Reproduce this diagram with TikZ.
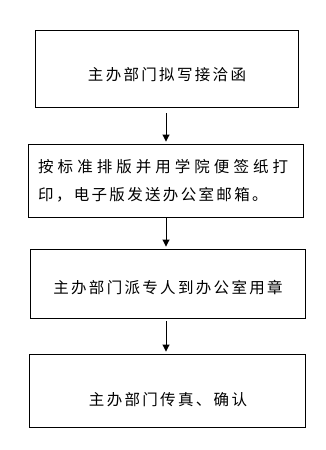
\documentclass[tikz,border=0pt]{standalone}
\usepackage{fontspec}
\newfontfamily\cjk[LetterSpace=15]{Noto Sans CJK SC}
\newfontfamily\cjkwide[LetterSpace=26]{Noto Sans CJK SC}
\usetikzlibrary{arrows.meta}

\begin{document}
\begin{tikzpicture}[x=1pt, y=-1pt,
    box/.style={draw, line width=0.9pt, inner sep=0pt},
    txt/.style={inner sep=0pt, font=\fontsize{15.5}{28}\cjk},
    arr/.style={line width=0.9pt, -{Triangle[width=7pt,length=7pt]}}]

    \useasboundingbox (0,0) rectangle (326,450);

    \node[box, minimum width=263pt, minimum height=77pt] (b1) at (166.5,68.5) {};
    \node[box, minimum width=275pt, minimum height=73pt] (b2) at (165.5,180.5) {};
    \node[box, minimum width=275pt, minimum height=69pt] (b3) at (167.5,283.5) {};
    \node[box, minimum width=276pt, minimum height=73pt] (b4) at (167,390.5) {};

    \node[txt] (t1) at (167,75) {主办部门拟写接洽函};
    \node[txt, anchor=west, align=left] (t2) at (38,180.5)
        {{\cjkwide 按标准排版并用学院便签纸打}\\印，电子版发送办公室邮箱。};
    \node[txt] (t3) at (168,288) {主办部门派专人到办公室用章};
    \node[txt] (t4) at (168,400) {主办部门传真、确认};

    % line of the arrows
    \coordinate (ax) at (166,0);
    \draw[arr, shorten <=6pt, shorten >=2pt] (b1.south -| ax) -- (b2.north -| ax);
    \draw[arr, shorten >=2pt] (b2.south -| ax) -- (b3.north -| ax);
    \draw[arr, shorten <=3pt, shorten >=2pt] (b3.south -| ax) -- (b4.north -| ax);
\end{tikzpicture}
\end{document}
